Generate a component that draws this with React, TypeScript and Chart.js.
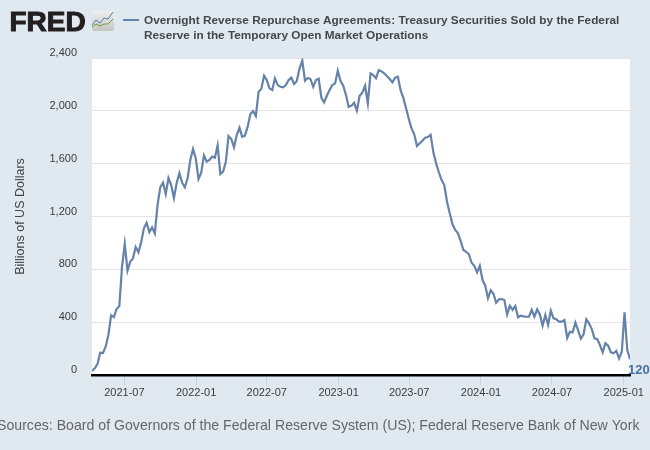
import React, { useEffect, useRef } from "react";
import { Chart, registerables } from "chart.js";

Chart.register(...registerables);

const startDate = "2021-04-09";
const seriesName = [
  "Overnight Reverse Repurchase Agreements: Treasury Securities Sold by the Federal",
  "Reserve in the Temporary Open Market Operations",
];
const sourceText = "Sources: Board of Governors of the Federal Reserve System (US); Federal Reserve Bank of New York";
const yAxisTitle = "Billions of US Dollars";
const xTickLabels = ["2021-07", "2022-01", "2022-07", "2023-01", "2023-07", "2024-01", "2024-07", "2025-01"];
const lastLabel = "120";
const weeklyValues = [
  30, 50, 83, 169, 166, 214, 303, 452, 439, 500, 522, 820, 992, 790, 858, 883, 969, 929, 1004, 1110,
  1153, 1082, 1118, 1072, 1287, 1421, 1456, 1370, 1491, 1438, 1340, 1453, 1529, 1456, 1421, 1489, 1628, 1711, 1640, 1484,
  1532, 1663, 1615, 1628, 1653, 1645, 1739, 1522, 1539, 1615, 1809, 1787, 1724, 1817, 1872, 1804, 1812, 1880, 1976, 1998,
  1961, 2145, 2165, 2266, 2233, 2170, 2157, 2246, 2195, 2182, 2178, 2195, 2233, 2251, 2203, 2226, 2322, 2380, 2228, 2248,
  2241, 2182, 2233, 2243, 2099, 2064, 2114, 2157, 2195, 2208, 2304, 2226, 2190, 2120, 2029, 2039, 2061, 2001, 2114, 2137,
  2190, 2057, 2284, 2271, 2246, 2309, 2299, 2284, 2264, 2241, 2216, 2251, 2259, 2157, 2099, 2019, 1938, 1867, 1822, 1733,
  1754, 1774, 1797, 1802, 1819, 1686, 1603, 1535, 1476, 1438, 1312, 1224, 1141, 1098, 1073, 1014, 946, 933, 914, 850,
  827, 777, 827, 719, 676, 581, 641, 615, 547, 573, 575, 568, 459, 525, 494, 522, 437, 449, 444, 441,
  441, 494, 441, 497, 459, 373, 454, 379, 487, 429, 422, 404, 404, 416, 280, 328, 323, 396, 338, 275,
  308, 422, 391, 348, 278, 272, 227, 172, 240, 222, 172, 164, 182, 126, 176, 475, 189, 120,
];

const LINE = "#6583a8";
const BG = "#e1e9f0";
const FONT = '"Liberation Sans", Arial, sans-serif';
const DAY = 86400000;
const toDay = (iso: string) => Date.parse(iso + "T00:00:00Z") / DAY;
const startDay = toDay(startDate);
const points = weeklyValues.map((y, i) => ({ x: startDay + i * 7, y }));

const decorPlugin = {
  id: "decor",
  beforeDraw(chart: any) {
    const { ctx, chartArea: a } = chart;
    ctx.save();
    ctx.fillStyle = BG;
    ctx.fillRect(0, 0, chart.width, chart.height);
    ctx.fillStyle = "#ffffff";
    ctx.fillRect(a.left, a.top, a.right - a.left, a.bottom - a.top);
    ctx.restore();
  },
  afterDraw(chart: any) {
    const { ctx, chartArea: a } = chart;
    ctx.save();
    // Logo
    ctx.fillStyle = "#231f20";
    ctx.font = `bold 28px ${FONT}`;
    ctx.textBaseline = "alphabetic";
    ctx.textAlign = "left";
    ctx.lineWidth = 1;
    ctx.strokeStyle = "#231f20";
    ctx.fillText("FRED", 9.5, 31);
    ctx.strokeText("FRED", 9.5, 31);
    const g = ctx.createLinearGradient(0, 11, 0, 31);
    g.addColorStop(0, "#eef0f0");
    g.addColorStop(1, "#c4c6c2");
    ctx.fillStyle = g;
    ctx.beginPath();
    ctx.roundRect(92, 11, 22, 20, 2);
    ctx.fill();
    const spark = (pts: number[][], c: string) => {
      ctx.strokeStyle = c;
      ctx.beginPath();
      pts.forEach(([x, y], i) => (i ? ctx.lineTo(x, y) : ctx.moveTo(x, y)));
      ctx.stroke();
    };
    spark([[92, 25], [96, 20], [100, 23], [104, 18], [108, 19], [113, 12]], "#4d7ea8");
    spark([[92, 27], [96, 24], [100, 26], [104, 24], [108, 24], [113, 19]], "#6f9a3c");
    // Legend
    ctx.strokeStyle = LINE;
    ctx.lineWidth = 2;
    ctx.beginPath();
    ctx.moveTo(123, 20);
    ctx.lineTo(139, 20);
    ctx.stroke();
    ctx.fillStyle = "#43484c";
    ctx.font = `bold 11.8px ${FONT}`;
    seriesName.forEach((t, i) => ctx.fillText(t, 144, 24 + i * 15));
    // Source
    ctx.fillStyle = "#666666";
    ctx.font = `14.14px ${FONT}`;
    ctx.fillText(sourceText, -3, 430);
    // Last value
    ctx.fillStyle = "#4572a7";
    ctx.font = `bold 13px ${FONT}`;
    ctx.fillText(lastLabel, a.right - 2, 374);
    ctx.restore();
  },
};

export default function App() {
  const ref = useRef<HTMLCanvasElement | null>(null);
  useEffect(() => {
    if (!ref.current) return;
    const chart = new Chart(ref.current, {
      type: "line",
      data: {
        datasets: [
          {
            label: seriesName.join(" "),
            data: points,
            borderColor: LINE,
            borderWidth: 2.2,
            pointRadius: 0,
            tension: 0,
            fill: false,
          },
        ],
      },
      plugins: [decorPlugin],
      options: {
        animation: false,
        responsive: false,
        parsing: false,
        layout: { padding: { top: 58, right: 20, left: 0, bottom: 0 } },
        plugins: { legend: { display: false }, tooltip: { enabled: false }, title: { display: false } },
        scales: {
          x: {
            type: "linear",
            min: startDay,
            max: startDay + (weeklyValues.length - 1) * 7,
            afterFit: (s: any) => {
              s.height = 75;
              s.paddingLeft = 0;
              s.paddingRight = 0;
            },
            afterBuildTicks: (s: any) => {
              s.ticks = xTickLabels.map((l) => ({ value: toDay(l + "-01") }));
            },
            grid: { drawOnChartArea: false, drawTicks: true, tickLength: 10, tickColor: "#c5d3e8", tickWidth: 1 },
            border: { display: true, color: "#000000", width: 2.5 },
            ticks: {
              autoSkip: false,
              maxRotation: 0,
              minRotation: 0,
              padding: 1,
              color: "#3c3c3c",
              font: { family: FONT, size: 11 },
              callback: (v: any) => new Date(Number(v) * DAY).toISOString().slice(0, 7),
            },
          },
          y: {
            type: "linear",
            min: 0,
            max: 2400,
            afterFit: (s: any) => {
              s.width = 92;
              s.paddingTop = 0;
              s.paddingBottom = 0;
            },
            title: {
              display: true,
              text: yAxisTitle,
              color: "#444444",
              font: { family: FONT, size: 12.5 },
              padding: { top: 13, bottom: 0 },
            },
            grid: { color: "#e4e4e4", lineWidth: 1, drawTicks: false },
            border: { display: false },
            ticks: {
              stepSize: 400,
              padding: 15,
              labelOffset: -5,
              color: "#3c3c3c",
              font: { family: FONT, size: 11 },
              callback: (v: any) => Number(v).toLocaleString("en-US"),
            },
          },
        },
      } as any,
    });
    return () => chart.destroy();
  }, []);
  return (
    <div style={{ position: "fixed", left: 0, top: 0, width: 650, height: 450, overflow: "hidden" }}>
      <canvas ref={ref} width={650} height={450} style={{ display: "block" }} />
    </div>
  );
}
